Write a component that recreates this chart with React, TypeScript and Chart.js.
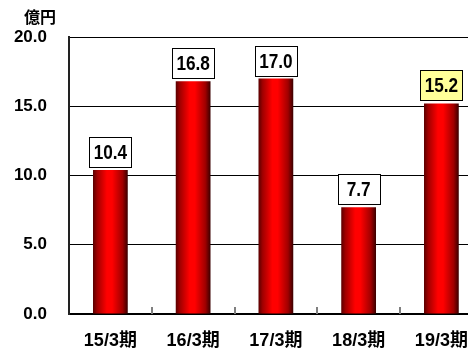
import React, { useEffect, useRef } from "react";
import { Chart, registerables } from "chart.js";

Chart.register(...registerables);

const categories = ["15/3期", "16/3期", "17/3期", "18/3期", "19/3期"];
const values = [10.4, 16.8, 17.0, 7.7, 15.2];
const labelFills = ["#ffffff", "#ffffff", "#ffffff", "#ffffff", "#ffff99"];
const yTicks = [0, 5, 10, 15, 20];
const unitLabel = "億円";

const LABEL_FONT = "bold 20px 'Liberation Sans', Arial, sans-serif";

const extrasPlugin = {
  id: "extras",
  afterDraw(chart: any) {
    const ctx = chart.ctx;
    const xs = chart.scales.x;
    const area = chart.chartArea;
    const n = categories.length;
    ctx.save();
    // inner tick marks at category boundaries
    ctx.fillStyle = "#7f7f7f";
    for (let i = 1; i <= n; i++) {
      const px = Math.round(xs.left + (i * (xs.right - xs.left)) / n);
      ctx.fillRect(px - 1, area.bottom - 7, 2, 7);
    }
    // value boxes
    const meta = chart.getDatasetMeta(0);
    meta.data.forEach((bar: any, i: number) => {
      const w = 42;
      const h = 30;
      const bx = Math.round(bar.x - w / 2) + 0.5;
      const by = Math.round(bar.y - 3 - h) + 0.5;
      ctx.fillStyle = labelFills[i];
      ctx.fillRect(bx, by, w, h);
      ctx.strokeStyle = "#000000";
      ctx.lineWidth = 1;
      ctx.strokeRect(bx, by, w, h);
      ctx.save();
      ctx.translate(bar.x, by + h / 2 + 1);
      ctx.scale(0.86, 1);
      ctx.font = LABEL_FONT;
      ctx.textAlign = "center";
      ctx.textBaseline = "middle";
      ctx.fillStyle = "#000000";
      ctx.fillText(values[i].toFixed(1), 0, 0);
      ctx.restore();
    });
    // unit label
    ctx.font = "bold 16px 'Noto Sans CJK JP', sans-serif";
    ctx.textAlign = "center";
    ctx.textBaseline = "middle";
    ctx.fillStyle = "#000000";
    ctx.fillText(unitLabel, 40, 17);
    ctx.restore();
  },
};

export default function App() {
  const ref = useRef<HTMLCanvasElement | null>(null);
  useEffect(() => {
    if (!ref.current) return;
    const chart = new Chart(ref.current, {
      type: "bar",
      data: {
        labels: categories,
        datasets: [
          {
            data: values,
            barPercentage: 0.42,
            categoryPercentage: 1,
            borderWidth: 0,
            backgroundColor: (c: any) => {
              const ch = c.chart;
              const xs = ch.scales?.x;
              if (!ch.chartArea || !xs || c.dataIndex === undefined) return "#e00000";
              const cx = xs.getPixelForValue(c.dataIndex);
              const half = ((xs.width / categories.length) * 0.42) / 2;
              const g = ch.ctx.createLinearGradient(cx - half, 0, cx + half, 0);
              g.addColorStop(0, "#5a0000");
              g.addColorStop(0.12, "#a00000");
              g.addColorStop(0.4, "#ff0000");
              g.addColorStop(0.55, "#ff0000");
              g.addColorStop(0.85, "#a00000");
              g.addColorStop(1, "#3a0000");
              return g;
            },
          },
        ],
      },
      options: {
        animation: false,
        responsive: false,
        maintainAspectRatio: false,
        layout: { padding: { top: 37, right: 1, bottom: 0, left: 0 } },
        plugins: { legend: { display: false }, tooltip: { enabled: false } },
        scales: {
          x: {
            offset: true,
            grid: { display: false, drawTicks: false },
            border: { display: true, color: "#000000", width: 2 },
            ticks: {
              color: "#000000",
              padding: 16,
              maxRotation: 0,
              font: { family: "'Liberation Sans', 'Noto Sans CJK JP', sans-serif", size: 18, weight: "bold" },
            },
            afterFit: (s: any) => {
              s.height = 36;
            },
          },
          y: {
            min: 0,
            max: 20,
            afterBuildTicks: (s: any) => {
              s.ticks = yTicks.map((v) => ({ value: v }));
            },
            grid: { color: "#000000", lineWidth: 1, drawTicks: false },
            border: { display: true, color: "#222222", width: 2 },
            ticks: {
              color: "#000000",
              padding: 22,
              callback: (v: any) => Number(v).toFixed(1),
              font: { family: "'Liberation Sans', sans-serif", size: 17, weight: "bold" },
            },
            afterFit: (s: any) => {
              s.width = 69;
            },
          },
        },
      },
      plugins: [extrasPlugin],
    });
    return () => chart.destroy();
  }, []);
  return (
    <div style={{ position: "fixed", left: 0, top: 0, width: 484, height: 350, overflow: "hidden", background: "#fff" }}>
      <canvas ref={ref} width={484} height={350} style={{ width: 484, height: 350, display: "block" }} />
    </div>
  );
}
